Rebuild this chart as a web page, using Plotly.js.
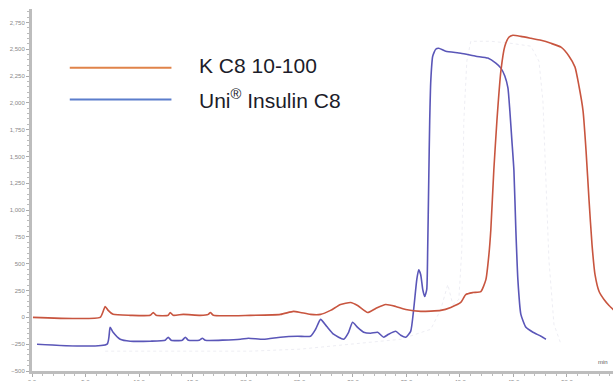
<!DOCTYPE html>
<html>
<head>
<meta charset="utf-8">
<script src="https://cdn.plot.ly/plotly-3.0.1.min.js"></script>
<style>html,body{margin:0;padding:0;background:#fff;}#chart{width:613px;height:381px;}</style>
</head>
<body>
<div id="chart"></div>
<script>
// Series names
const seriesNames = ["K C8 10-100", "Uni<sup>®</sup> Insulin C8"];

// K C8 10-100 (red)
const redX = [0.09,6.37,6.65,6.84,7.12,7.58,9.18,11.05,11.33,11.61,12.73,12.92,13.20,14.14,15.73,16.48,16.67,16.95,20.41,23.22,24.44,25.09,26.03,26.97,27.90,28.84,29.78,30.43,31.37,32.12,33.05,33.99,34.93,36.33,38.20,39.14,40.07,40.54,41.20,41.95,42.42,42.70,42.88,43.16,43.45,43.82,44.19,44.57,44.94,45.69,46.63,47.57,48.50,49.44,50.19,50.75,51.12,51.50,51.78,52.06,52.34,52.62,53.00,53.46,53.93,54.40];
const redY = [0,0,56,102,65,28,19,19,46,19,19,46,19,28,19,28,46,19,19,28,56,46,28,28,65,120,139,111,46,83,120,102,74,56,65,93,139,213,231,241,352,583,815,1370,1833,2296,2528,2611,2630,2620,2602,2583,2555,2519,2435,2333,2157,1926,1555,1093,676,398,241,167,111,65];

// Uni Insulin C8 (blue)
const blueX = [0.47,7.02,7.30,7.58,8.24,9.18,11.05,12.45,12.73,13.01,14.04,14.33,14.61,15.64,15.92,16.20,19.48,20.22,21.63,23.22,24.81,26.03,26.50,26.97,27.53,28.18,29.12,29.59,29.96,30.43,31.00,31.65,32.30,32.87,33.33,33.99,34.46,34.93,35.39,35.67,35.96,36.14,36.33,36.52,36.70,36.89,36.98,37.08,37.17,37.27,37.45,37.73,38.01,38.67,40.07,41.48,42.60,43.35,43.82,44.19,44.48,44.66,44.85,45.04,45.22,45.41,45.69,46.16,46.82,47.57,48.03];
const blueY = [-250,-250,-93,-139,-204,-222,-222,-213,-185,-213,-213,-185,-213,-213,-194,-213,-204,-194,-204,-185,-176,-176,-111,-19,-83,-157,-204,-139,-46,-93,-139,-148,-139,-185,-157,-130,-167,-185,-130,74,352,444,398,259,194,259,630,1278,1833,2204,2435,2500,2509,2481,2463,2435,2417,2370,2324,2250,2139,1926,1648,1370,815,352,28,-93,-139,-176,-204];

// faint background trace (gray)
const grayX = [6.84,20.41,25.09,29.78,34.46,37.27,38.20,38.86,39.33,39.89,40.17,40.36,40.64,41.01,42.88,44.76,46.63,47.38,47.75,48.03,48.31,48.78,49.44];
const grayY = [-315,-315,-296,-250,-204,-111,74,306,120,167,630,1833,2389,2574,2574,2555,2528,2389,2018,1278,537,-65,-250];

// Axis ticks
const xTickVals = [0,5,10,15,20,25,30,35,40,45,50];
const yTickVals = [-500,-250,0,250,500,750,1000,1250,1500,1750,2000,2250,2500,2750];

const traces = [
  {x: grayX, y: grayY, mode: 'lines', line: {color: 'rgba(215,215,228,0.45)', width: 1, dash: 'dot'}, hoverinfo: 'skip', showlegend: false},
  {x: blueX, y: blueY, mode: 'lines', name: seriesNames[1], line: {color: '#5a56b8', width: 1.6, shape: 'spline', smoothing: 0.5}, showlegend: false},
  {x: redX, y: redY, mode: 'lines', name: seriesNames[0], line: {color: '#c8553f', width: 1.6, shape: 'spline', smoothing: 0.5}, showlegend: false}
];

const layout = {
  width: 613, height: 381,
  margin: {l: 32, r: 0, t: 9, b: 10},
  paper_bgcolor: '#fff', plot_bgcolor: '#fff',
  showlegend: false,
  xaxis: {
    range: [0, 54.3], showgrid: false, zeroline: false,
    showline: true, linecolor: '#bdbdbd', linewidth: 3,
    tickvals: xTickVals, tickformat: '.1f',
    ticks: 'outside', ticklen: 3, tickcolor: '#aaa',
    minor: {dtick: 1, ticks: 'outside', ticklen: 2, tickcolor: '#bbb'},
    tickfont: {size: 6, color: '#888', family: 'Liberation Sans, Arial, sans-serif'}
  },
  yaxis: {
    range: [-500, 2875], showgrid: false, zeroline: false,
    showline: true, linecolor: '#bdbdbd', linewidth: 3,
    tickvals: yTickVals, tickformat: ',d',
    ticks: 'outside', ticklen: 3, tickcolor: '#aaa',
    minor: {dtick: 50, ticks: 'outside', ticklen: 2, tickcolor: '#bbb'},
    tickfont: {size: 6, color: '#888', family: 'Liberation Sans, Arial, sans-serif'}
  },
  shapes: [
    {type: 'line', xref: 'paper', yref: 'paper', x0: 0.065, x1: 0.24, y0: 0.838, y1: 0.838, line: {color: '#e0834a', width: 2}},
    {type: 'line', xref: 'paper', yref: 'paper', x0: 0.065, x1: 0.24, y0: 0.75, y1: 0.75, line: {color: '#5b7dcc', width: 2}}
  ],
  annotations: [
    {xref: 'paper', yref: 'paper', x: 0.284, y: 0.845, xanchor: 'left', yanchor: 'middle', showarrow: false,
     text: seriesNames[0], font: {size: 21, color: '#1c1c2a', family: 'Liberation Sans, Arial, sans-serif'}},
    {xref: 'paper', yref: 'paper', x: 0.284, y: 0.752, xanchor: 'left', yanchor: 'middle', showarrow: false,
     text: seriesNames[1], font: {size: 21, color: '#1c1c2a', family: 'Liberation Sans, Arial, sans-serif'}},
    {xref: 'paper', yref: 'paper', x: 0.995, y: 0.025, xanchor: 'right', yanchor: 'middle', showarrow: false,
     text: 'min', font: {size: 6, color: '#555', family: 'Liberation Sans, Arial, sans-serif'}}
  ]
};

Plotly.newPlot('chart', traces, layout, {displayModeBar: false, staticPlot: true});
</script>
</body>
</html>
